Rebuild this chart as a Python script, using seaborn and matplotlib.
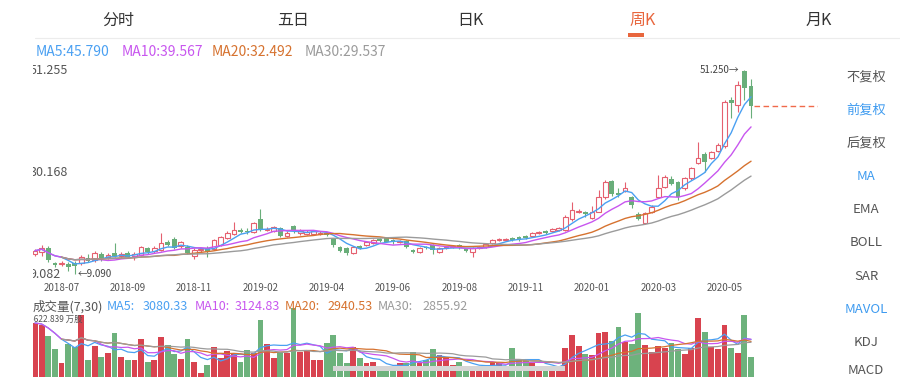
"""
Weekly K-line (周K) screen: candles with MA5/10/20/30 and a volume panel with MAVOL.
Saves out.png at 900x380.
"""

import numpy as np
import pandas as pd
import matplotlib
matplotlib.use("Agg")
import matplotlib.pyplot as plt
from matplotlib.patches import Rectangle
from matplotlib.lines import Line2D
import seaborn as sns

# ---- data ----
tabs = ["分时", "五日", "日K", "周K", "月K"]
active_tab = "周K"
side_menu = ["不复权", "前复权", "后复权", "MA", "EMA", "BOLL", "SAR", "MAVOL", "KDJ", "MACD"]
side_active = ["前复权", "MA", "MAVOL"]

date_ticks = [4, 14, 24, 34, 44, 54, 64, 74, 84, 94, 104]
date_labels = ["2018-07", "2018-09", "2018-11", "2019-02", "2019-04", "2019-06",
               "2019-08", "2019-11", "2020-01", "2020-03", "2020-05"]
price_marks = [51.255, 30.168, 9.082]

ma_windows = [5, 10, 20, 30]
ma_last = [45.790, 39.567, 32.492, 29.537]
vol_ma_last = [3080.33, 3124.83, 2940.53, 2855.92]

opens = [13.2, 13.6, 14.5, 11.4, 11.2, 11.2, 11.4, 11.4, 12.4, 12.0,
         13.2, 12.6, 13.5, 12.7, 13.5, 12.8, 13.0, 14.4, 13.8, 14.1,
         15.8, 16.4, 14.8, 14.7, 12.9, 14.0, 14.5, 14.2, 15.1, 16.5,
         17.3, 18.1, 18.0, 17.8, 20.4, 18.2, 18.0, 18.6, 17.0, 19.0,
         17.5, 17.4, 17.4, 17.3, 17.5, 16.3, 14.7, 14.5, 13.4, 14.8,
         15.0, 15.5, 16.3, 16.5, 16.1, 15.6, 16.0, 14.0, 13.7, 14.6,
         15.0, 13.6, 14.4, 14.6, 15.1, 14.2, 13.6, 14.4, 14.6, 15.4,
         16.1, 16.2, 16.6, 16.8, 16.9, 16.9, 17.5, 18.0, 17.9, 18.2,
         18.2, 20.5, 21.9, 21.9, 20.7, 22.0, 25.0, 28.3, 25.8, 26.3,
         24.9, 21.5, 19.6, 21.9, 25.0, 27.1, 28.7, 28.1, 26.9, 28.9,
         32.0, 33.9, 33.1, 34.5, 35.5, 45.0, 44.0, 51.0, 48.0]
highs = [14.3, 15.1, 14.9, 11.6, 11.8, 11.6, 11.8, 13.0, 13.2, 13.8,
         13.6, 13.5, 15.5, 13.7, 13.9, 13.6, 14.9, 14.7, 14.8, 17.5,
         16.1, 16.7, 16.0, 15.0, 14.4, 14.5, 14.8, 16.4, 17.0, 17.9,
         19.9, 18.5, 18.6, 19.9, 22.5, 18.8, 19.0, 18.9, 17.9, 19.3,
         18.4, 18.1, 18.1, 17.9, 17.8, 16.5, 14.9, 14.7, 14.9, 15.1,
         16.0, 16.4, 16.6, 16.8, 16.4, 16.2, 16.2, 14.2, 14.7, 14.9,
         15.2, 14.6, 14.9, 15.1, 15.3, 14.4, 14.6, 14.8, 15.5, 16.4,
         16.5, 16.6, 16.8, 17.0, 17.1, 17.8, 17.9, 18.2, 18.5, 18.8,
         21.2, 24.0, 22.5, 22.1, 23.2, 26.5, 28.5, 28.6, 26.8, 28.1,
         25.3, 22.0, 22.0, 23.4, 29.5, 29.5, 29.4, 28.4, 29.2, 31.3,
         36.4, 34.2, 34.6, 36.1, 45.1, 45.6, 49.0, 51.25, 49.3]
lows = [12.8, 12.8, 11.6, 10.6, 10.8, 9.8, 9.09, 11.0, 11.6, 11.6,
        11.8, 12.2, 12.5, 12.3, 12.3, 12.0, 12.8, 13.2, 13.4, 13.9,
        14.9, 14.2, 14.5, 13.2, 12.1, 13.7, 12.5, 14.0, 14.9, 16.3,
        17.1, 17.5, 17.4, 17.6, 17.9, 17.9, 17.8, 16.8, 16.8, 17.6,
        17.2, 17.2, 17.1, 17.1, 16.9, 14.7, 13.6, 13.1, 13.2, 14.3,
        14.8, 15.3, 15.8, 15.6, 15.3, 15.4, 14.4, 13.5, 13.5, 14.2,
        13.3, 13.4, 14.2, 14.4, 14.3, 13.6, 12.5, 14.2, 14.4, 15.2,
        15.9, 16.0, 16.0, 16.0, 16.4, 16.7, 17.3, 17.4, 17.8, 18.0,
        18.0, 20.0, 21.6, 20.9, 20.5, 21.8, 24.5, 25.2, 25.0, 26.0,
        22.8, 20.2, 19.4, 21.7, 24.8, 26.9, 27.4, 24.3, 26.5, 28.6,
        31.8, 30.2, 32.9, 34.3, 35.2, 41.3, 42.5, 45.0, 41.3]
closes = [13.9, 14.5, 12.0, 11.0, 11.4, 10.6, 10.8, 12.6, 11.8, 13.4,
          12.2, 13.0, 12.9, 13.3, 12.6, 13.3, 14.6, 13.6, 14.5, 15.5,
          15.1, 14.5, 15.6, 13.5, 14.1, 14.2, 13.7, 16.2, 16.7, 17.6,
          18.2, 17.8, 17.7, 19.6, 18.2, 18.4, 18.7, 17.0, 17.6, 17.9,
          18.0, 17.8, 17.9, 17.6, 17.2, 15.0, 13.9, 13.4, 14.6, 14.5,
          15.7, 16.1, 16.0, 15.8, 15.6, 15.9, 14.7, 13.7, 14.5, 14.4,
          14.0, 14.4, 14.6, 14.9, 14.5, 13.8, 14.4, 14.6, 15.3, 16.1,
          16.3, 16.4, 16.2, 16.2, 16.6, 17.6, 17.7, 17.6, 18.3, 18.6,
          20.9, 22.3, 22.1, 21.4, 22.0, 25.0, 28.2, 25.7, 25.4, 26.9,
          23.4, 20.5, 21.7, 23.0, 26.9, 29.1, 27.7, 25.0, 28.9, 31.0,
          33.1, 32.2, 34.3, 35.8, 44.6, 44.4, 48.2, 47.5, 43.82]
# weekly volume, 万股
volumes = [4401, 4238, 3342, 2282, 1141, 2690, 2445, 5053, 1386, 2527,
           1630, 1956, 3586, 1630, 1386, 1386, 3097, 1223, 1386, 3260,
           2608, 1875, 1467, 3097, 1223, 326, 978, 2445, 1549, 2119,
           1956, 1223, 2201, 1956, 4646, 2690, 1549, 2038, 1956, 5622.839,
           2038, 2119, 1386, 1386, 2771, 3423, 1956, 1141, 2445, 1549,
           1141, 1223, 815, 734, 815, 1166, 1141, 2038, 1141, 1386,
           2282, 1793, 1549, 978, 1223, 897, 897, 815, 815, 1223,
           1141, 815, 2364, 1386, 1386, 1141, 815, 815, 734, 571,
           2364, 3423, 2527, 1875, 1793, 3586, 3668, 2934, 4075, 2853,
           2690, 5216, 2608, 2038, 2527, 2364, 2771, 2282, 1875, 2364,
           4809, 3668, 2445, 2282, 4238, 2364, 1956, 5053, 1630]

# ---- style ----
COL_UP = "#e5606f"
COL_DN = "#69ae7a"
VOL_UP = "#d8434f"
VOL_DN = "#6db27c"
MA_COLORS = ["#4aa0f2", "#c856ef", "#d6722f", "#9b9b9b"]
ACTIVE = "#e8663d"
BLUE = "#3e9bf0"
GREY = "#555555"

W, H = 900, 380
X0_PX, STEP_PX = 35, 6.63   # centre of first candle, px per candle


def fx(px):
    return px / W


def fy(py):
    return 1 - py / H


def jx(px):
    return (px - X0_PX) / STEP_PX


sns.set_theme(style="white")
plt.rcParams["font.family"] = ["Noto Sans CJK SC", "DejaVu Sans"]

df = pd.DataFrame({"open": opens, "high": highs, "low": lows,
                   "close": closes, "vol": volumes})
df["i"] = np.arange(len(df))
up = (df["close"] >= df["open"]).values
for n in ma_windows:
    df[f"ma{n}"] = df["close"].rolling(n, min_periods=1).mean()
    df[f"vma{n}"] = df["vol"].rolling(n, min_periods=1).mean()

fig = plt.figure(figsize=(9, 3.8), dpi=100)
ax = fig.add_axes([fx(33), fy(280), fx(818) - fx(33), (280 - 62) / H])
axv = fig.add_axes([fx(33), fy(377), fx(755) - fx(33), (377 - 308) / H])

# ---- candles ----
idx = df["i"].values
ax.vlines(idx, df["low"], df["high"], colors=np.where(up, COL_UP, COL_DN),
          linewidth=0.8, zorder=2)
body_lo = np.minimum(df["open"], df["close"]).values
body_h = np.maximum((df["close"] - df["open"]).abs().values, 0.08)
ax.bar(idx[up], body_h[up], bottom=body_lo[up], width=0.72, facecolor="white",
       edgecolor=COL_UP, linewidth=0.8, zorder=3)
ax.bar(idx[~up], body_h[~up], bottom=body_lo[~up], width=0.72, color=COL_DN,
       linewidth=0, zorder=3)

for n, c in zip(ma_windows, MA_COLORS):
    part = df if n <= 10 else df[df["i"] >= 4]
    sns.lineplot(data=part, x="i", y=f"ma{n}", color=c, linewidth=1.0, ax=ax, zorder=4)
    sns.lineplot(data=part, x="i", y=f"vma{n}", color=c, linewidth=0.9, ax=axv, zorder=4)

# latest close, dashed to the right
ax.hlines(df["close"].iloc[-1], idx[-1] + 0.4, jx(818), colors="#f06a4a",
          linestyles=(0, (4, 2.5)), linewidth=1.0, zorder=4)

step = (price_marks[0] - price_marks[-1]) / (274 - 70)
ax.set_xlim(jx(33), jx(818))
ax.set_ylim(price_marks[-1] - 6 * step, price_marks[0] + 8 * step)
ax.set_xticks(date_ticks)
ax.set_xticklabels(date_labels, fontsize=7, color=GREY)
ax.tick_params(axis="x", length=0, pad=2)
ax.set_yticks([])
ax.set_xlabel("")
ax.set_ylabel("")

for v in price_marks:
    ax.text(-0.004, v, f"{v:.3f}", transform=ax.get_yaxis_transform(), ha="left",
            va="center", fontsize=9, color=GREY, clip_on=True, zorder=6)

hi_j = int(df["high"].idxmax())
lo_j = int(df["low"].idxmin())
ax.text(hi_j - 0.8, df["high"][hi_j], f"{df['high'][hi_j]:.3f}→", ha="right",
        va="center", fontsize=7, color="#444444", zorder=6)
ax.text(lo_j + 0.4, df["low"][lo_j], f"←{df['low'][lo_j]:.3f}", ha="left",
        va="center", fontsize=7, color="#444444", zorder=6)

# ---- volume ----
axv.bar(idx, df["vol"], width=0.88, color=np.where(up, VOL_UP, VOL_DN),
        linewidth=0, zorder=2)
axv.set_xlim(jx(33), jx(755))
axv.set_ylim(0, df["vol"].max())
axv.set_xticks([])
axv.set_yticks([])
axv.set_xlabel("")
axv.set_ylabel("")
axv.text(-0.006, 0.83, f"{df['vol'].max():.3f} 万股", transform=axv.transAxes,
         ha="left", va="center", fontsize=6, color=GREY, clip_on=True, zorder=6)

for a in (ax, axv):
    for s in a.spines.values():
        s.set_visible(False)
    a.patch.set_alpha(0)

# grey scroll band across the volume panel
fig.add_artist(Rectangle((fx(333), fy(371)), fx(565) - fx(333), 5 / H,
                         transform=fig.transFigure, facecolor="#d6d6d6",
                         edgecolor="none", zorder=5))

# ---- tab bar ----
for name, cx in zip(tabs, [118, 293, 470, 643, 819]):
    fig.text(fx(cx), fy(20), name, ha="center", va="center", fontsize=11.5,
             color=ACTIVE if name == active_tab else "#333333")
fig.add_artist(Rectangle((fx(628), fy(37)), fx(644) - fx(628), 4 / H,
                         transform=fig.transFigure, facecolor=ACTIVE,
                         edgecolor="none"))
fig.add_artist(Line2D([fx(35), 1], [fy(37.5), fy(37.5)], color="#ececec",
                      linewidth=0.8, transform=fig.transFigure))

# ---- MA headers ----
for n, v, c, px in zip(ma_windows, ma_last, MA_COLORS, [36, 122, 212, 305]):
    fig.text(fx(px), fy(52), f"MA{n}:{v:.3f}", ha="left", va="center",
             fontsize=10, color=c)

fig.text(fx(33), fy(307), "成交量(7,30)", ha="left", va="center", fontsize=9,
         color=GREY)
for n, v, c, px, pv in zip(ma_windows, vol_ma_last, MA_COLORS,
                           [107, 195, 285, 378], [143, 235, 327, 422]):
    fig.text(fx(px), fy(307), f"MA{n}:", ha="left", va="center", fontsize=9, color=c)
    fig.text(fx(pv), fy(307), f"{v:.2f}", ha="left", va="center", fontsize=9, color=c)

# ---- right side menu ----
for k, name in enumerate(side_menu):
    fig.text(fx(866), fy(min(77 + 33.2 * k, 371)), name, ha="center", va="center",
             fontsize=9.5, color=BLUE if name in side_active else GREY)

fig.savefig("out.png", dpi=100)
plt.close(fig)
